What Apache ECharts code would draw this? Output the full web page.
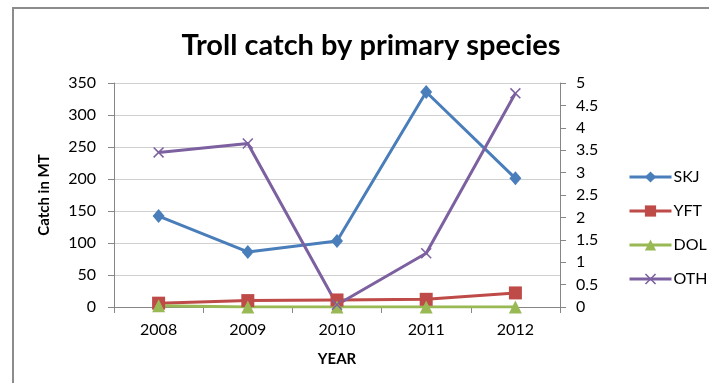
<!DOCTYPE html>
<html>
<head>
<meta charset="utf-8">
<script src="https://cdn.jsdelivr.net/npm/echarts@6/dist/echarts.min.js"></script>
<style>
  html, body { margin: 0; padding: 0; background: #fff; }
  #chart { width: 709px; height: 383px; }
</style>
</head>
<body>
<div id="chart"></div>
<script>
// Troll fishery catch (MT) by primary species, 2008-2012
const years = ['2008', '2009', '2010', '2011', '2012'];
const skj = [142, 86, 103, 336, 201];
const yft = [6, 10, 11, 12, 22];
const dol = [2, 0, 0, 0, 0];
const oth = [3.45, 3.65, 0.05, 1.2, 4.77]; // plotted on the secondary axis

const FONT = 'Lato';
const axisGrey = '#868686';
const gridGrey = '#d0d0d0';

const xSymbol = 'path://M0,1L1,0L5,4L9,0L10,1L6,5L10,9L9,10L5,6L1,10L0,9L4,5Z';

function lineSeries(name, data, color, symbol, size, yAxisIndex) {
  return {
    name: name,
    type: 'line',
    data: data,
    yAxisIndex: yAxisIndex,
    symbol: symbol,
    symbolSize: size,
    showAllSymbol: true,
    lineStyle: { color: color, width: 3 },
    itemStyle: { color: color, opacity: 1 },
    emphasis: { disabled: true },
    animation: false,
    z: 3
  };
}

const chart = echarts.init(document.getElementById('chart'));
chart.setOption({
  animation: false,
  backgroundColor: '#fff',
  title: {
    text: 'Troll catch by primary species',
    left: 366,
    top: 26,
    textAlign: 'center',
    textStyle: { fontFamily: FONT, fontWeight: 'bold', fontSize: 29, color: '#000' }
  },
  graphic: [{
    type: 'rect',
    shape: { x: 13, y: 8, width: 720, height: 400 },
    style: { fill: 'none', stroke: '#8c8c8c', lineWidth: 2 },
    silent: true
  }],
  legend: {
    orient: 'vertical',
    left: 623,
    top: 164,
    itemWidth: 42,
    itemHeight: 14,
    itemGap: 18,
    lineStyle: { width: 3 },
    textStyle: { fontFamily: FONT, fontSize: 16, lineHeight: 14, color: '#000', padding: [0, 0, 0, -3] },
    data: ['SKJ', 'YFT', 'DOL', 'OTH']
  },
  grid: { left: 114, right: 149, top: 83, bottom: 76 },
  xAxis: {
    type: 'category',
    data: years,
    boundaryGap: true,
    name: 'YEAR',
    nameLocation: 'middle',
    nameGap: 45,
    nameTextStyle: { fontFamily: FONT, fontWeight: 'bold', fontSize: 15, color: '#000' },
    axisLine: { lineStyle: { color: axisGrey, width: 1 } },
    axisTick: { show: true, length: 6, alignWithLabel: false, lineStyle: { color: axisGrey } },
    axisLabel: { fontFamily: FONT, fontSize: 16, color: '#000', margin: 15 },
    splitLine: { show: false }
  },
  yAxis: [{
    type: 'value',
    min: 0, max: 350, interval: 50,
    name: 'Catch in MT',
    nameLocation: 'middle',
    nameRotate: 90,
    nameGap: 62,
    nameTextStyle: { fontFamily: FONT, fontWeight: 'bold', fontSize: 15, color: '#000' },
    axisLine: { show: true, lineStyle: { color: axisGrey } },
    axisTick: { show: true, length: 6, lineStyle: { color: axisGrey } },
    axisLabel: { fontFamily: FONT, fontSize: 16, color: '#000', margin: 18 },
    splitLine: { show: true, lineStyle: { color: gridGrey, width: 1 } }
  }, {
    type: 'value',
    min: 0, max: 5, interval: 0.5,
    position: 'right',
    axisLine: { show: true, lineStyle: { color: axisGrey } },
    axisTick: { show: true, length: 6, lineStyle: { color: axisGrey } },
    axisLabel: { fontFamily: FONT, fontSize: 16, color: '#000', margin: 16 },
    splitLine: { show: false }
  }],
  series: [
    lineSeries('SKJ', skj, '#4A7EBB', 'diamond', [12, 14], 0),
    lineSeries('YFT', yft, '#BE4B48', 'rect', 13, 0),
    lineSeries('DOL', dol, '#98B954', 'triangle', 13, 0),
    lineSeries('OTH', oth, '#7D60A0', xSymbol, 11, 1)
  ]
});
</script>
</body>
</html>
